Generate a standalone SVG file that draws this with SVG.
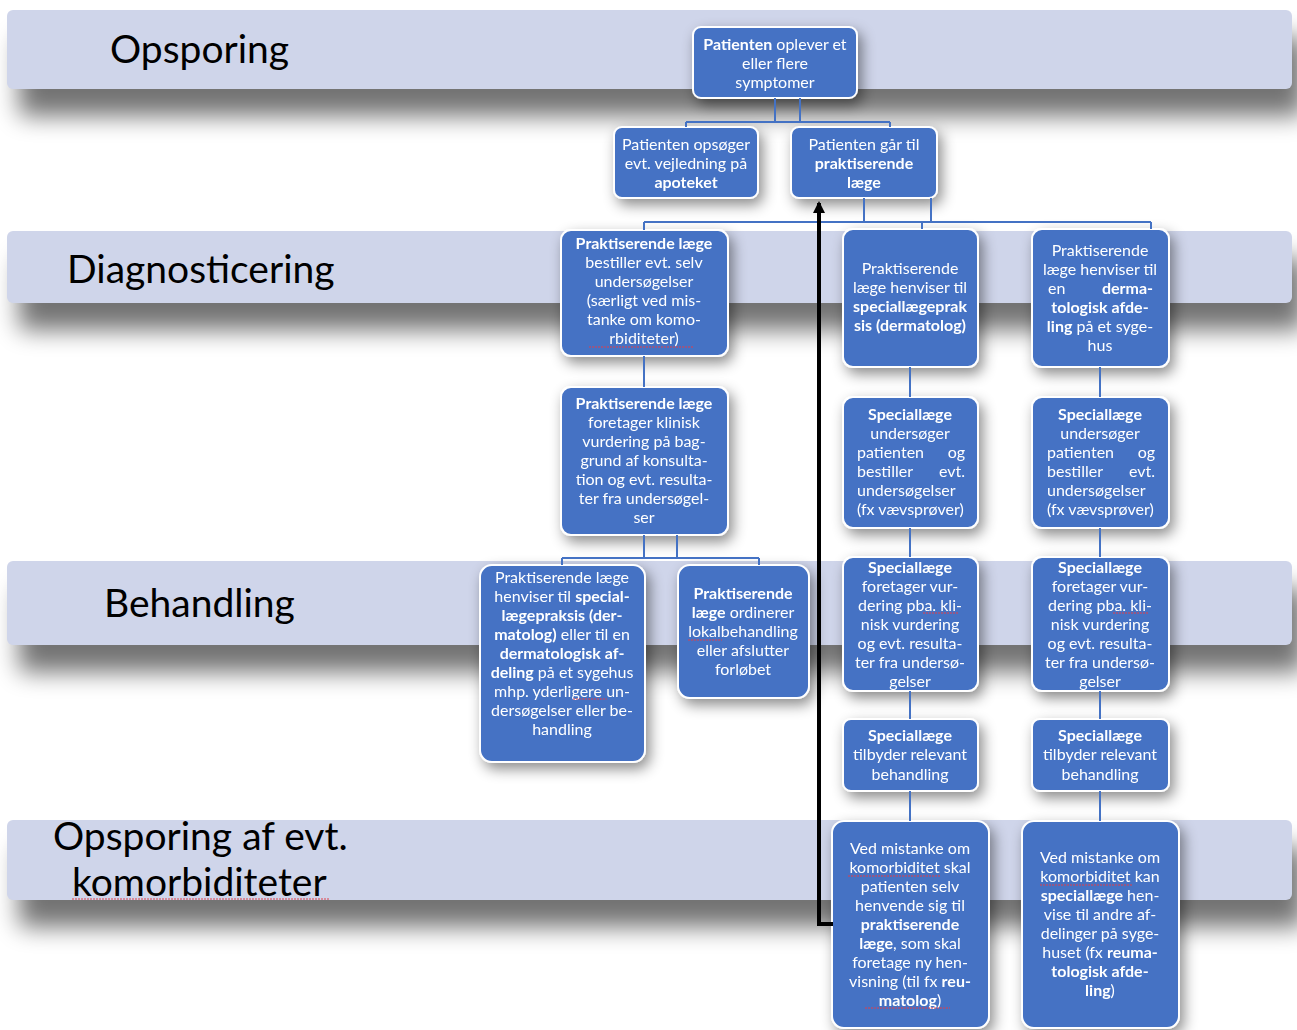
<svg xmlns="http://www.w3.org/2000/svg" width="1297" height="1030" viewBox="0 0 1297 1030">
<style>
.band{fill:#CFD5EA}
.bsh{fill:#000;opacity:0.55}
.lane{font-family:Lato,"Liberation Sans",sans-serif;font-size:39px;fill:#000}
.node rect{fill:#4472C4;stroke:#fff;stroke-width:2}
.t{font-family:Lato,"Liberation Sans",sans-serif;font-size:16px;fill:#fff;text-anchor:middle}
.l{text-anchor:start}
.r{text-anchor:end}
.b{font-weight:bold}
.conn{stroke:#4472C4;stroke-width:2;fill:none}
.arw{stroke:#000;stroke-width:4;fill:none}
.sq{stroke:#E0404A;stroke-width:1;fill:none;stroke-dasharray:2 1}
</style>
<defs>
<filter id="blurBand" x="-5%" y="-60%" width="110%" height="220%"><feGaussianBlur stdDeviation="12"/></filter>
<filter id="nsh" x="-30%" y="-30%" width="170%" height="170%"><feDropShadow dx="4" dy="6" stdDeviation="7" flood-color="#000" flood-opacity="0.45"/></filter>
<marker id="ah" markerUnits="userSpaceOnUse" markerWidth="12" markerHeight="12" viewBox="0 0 12 12" refX="10" refY="6" orient="auto"><path d="M0,0 L12,6 L0,12 z" fill="#000"/></marker>
</defs>
<rect width="1297" height="1030" fill="#fff"/>
<g id="lanes">
<g id="lane-opsporing">
<rect class="bsh" x="19" y="37" width="1285" height="79" rx="5" filter="url(#blurBand)"/>
<rect class="band" x="7" y="10" width="1285" height="79" rx="6"/>
<text class="lane" x="110" y="63">Opsporing</text>
</g>
<g id="lane-diagnosticering">
<rect class="bsh" x="19" y="258" width="1285" height="72" rx="5" filter="url(#blurBand)"/>
<rect class="band" x="7" y="231" width="1285" height="72" rx="6"/>
<text class="lane" x="67" y="283">Diagnosticering</text>
</g>
<g id="lane-behandling">
<rect class="bsh" x="19" y="588" width="1285" height="84" rx="5" filter="url(#blurBand)"/>
<rect class="band" x="7" y="561" width="1285" height="84" rx="6"/>
<text class="lane" x="104" y="617">Behandling</text>
</g>
<g id="lane-komorbiditeter">
<rect class="bsh" x="19" y="847" width="1285" height="80" rx="5" filter="url(#blurBand)"/>
<rect class="band" x="7" y="820" width="1285" height="80" rx="6"/>
<text class="lane" x="53" y="850">Opsporing af evt.</text>
<text class="lane" x="72" y="896">komorbiditeter</text>
<path class="sq" d="M72,899 H330"/>
</g>
</g>
<g id="nodes">
<g id="n1" class="node" filter="url(#nsh)">
<rect x="693" y="27" width="164" height="71" rx="8"/>
<text class="t" x="775" y="49.5"><tspan class="b">Patienten</tspan> oplever et</text>
<text class="t" x="775" y="68.5">eller flere</text>
<text class="t" x="775" y="87.5">symptomer</text>
</g>
<g id="n2" class="node" filter="url(#nsh)">
<rect x="614" y="127" width="144" height="71" rx="8"/>
<text class="t" x="686" y="150">Patienten opsøger</text>
<text class="t" x="686" y="169">evt. vejledning på</text>
<text class="t b" x="686" y="188">apoteket</text>
</g>
<g id="n3" class="node" filter="url(#nsh)">
<rect x="791" y="127" width="146" height="71" rx="8"/>
<text class="t" x="864" y="150">Patienten går til</text>
<text class="t b" x="864" y="169">praktiserende</text>
<text class="t b" x="864" y="188">læge</text>
</g>
<g id="n4" class="node" filter="url(#nsh)">
<rect x="561" y="230" width="167" height="126" rx="10"/>
<text class="t b" x="644" y="249">Praktiserende læge</text>
<text class="t" x="644" y="268">bestiller evt. selv</text>
<text class="t" x="644" y="287">undersøgelser</text>
<text class="t" x="644" y="306">(særligt ved mis-</text>
<text class="t" x="644" y="325">tanke om komo-</text>
<text class="t" x="644" y="344">rbiditeter)</text>
<path class="sq" d="M589,347 H693"/>
</g>
<g id="n5" class="node" filter="url(#nsh)">
<rect x="561" y="387" width="167" height="148" rx="10"/>
<text class="t b" x="644" y="409">Praktiserende læge</text>
<text class="t" x="644" y="428">foretager klinisk</text>
<text class="t" x="644" y="447">vurdering på bag-</text>
<text class="t" x="644" y="466">grund af konsulta-</text>
<text class="t" x="644" y="485">tion og evt. resulta-</text>
<text class="t" x="644" y="504">ter fra undersøgel-</text>
<text class="t" x="644" y="523">ser</text>
</g>
<g id="n6" class="node" filter="url(#nsh)">
<rect x="843" y="229" width="135" height="138" rx="10"/>
<text class="t" x="910" y="274">Praktiserende</text>
<text class="t" x="910" y="293">læge henviser til</text>
<text class="t b" x="910" y="312">speciallægeprak</text>
<text class="t b" x="910" y="331">sis (dermatolog)</text>
</g>
<g id="n7" class="node" filter="url(#nsh)">
<rect x="1032" y="229" width="137" height="138" rx="10"/>
<text class="t" x="1100" y="256">Praktiserende</text>
<text class="t" x="1100" y="275">læge henviser til</text>
<text class="t l" x="1048" y="294">en</text>
<text class="t r b" x="1153" y="294">derma-</text>
<text class="t b" x="1100" y="313">tologisk afde-</text>
<text class="t" x="1100" y="332"><tspan class="b">ling</tspan> på et syge-</text>
<text class="t" x="1100" y="351">hus</text>
</g>
<g id="n8" class="node" filter="url(#nsh)">
<rect x="843" y="397" width="135" height="131" rx="10"/>
<text class="t b" x="910" y="420">Speciallæge</text>
<text class="t" x="910" y="439">undersøger</text>
<text class="t l" x="857" y="458">patienten</text>
<text class="t r" x="965" y="458">og</text>
<text class="t l" x="857" y="477">bestiller</text>
<text class="t r" x="965" y="477">evt.</text>
<text class="t l" x="857" y="496">undersøgelser</text>
<text class="t l" x="857" y="515">(fx vævsprøver)</text>
</g>
<g id="n9" class="node" filter="url(#nsh)">
<rect x="1032" y="397" width="137" height="131" rx="10"/>
<text class="t b" x="1100" y="420">Speciallæge</text>
<text class="t" x="1100" y="439">undersøger</text>
<text class="t l" x="1047" y="458">patienten</text>
<text class="t r" x="1155" y="458">og</text>
<text class="t l" x="1047" y="477">bestiller</text>
<text class="t r" x="1155" y="477">evt.</text>
<text class="t l" x="1047" y="496">undersøgelser</text>
<text class="t l" x="1047" y="515">(fx vævsprøver)</text>
</g>
<g id="n10" class="node" filter="url(#nsh)">
<rect x="843" y="557" width="135" height="134" rx="10"/>
<text class="t b" x="910" y="573">Speciallæge</text>
<text class="t" x="910" y="592">foretager vur-</text>
<text class="t" x="910" y="611">dering pba. kli-</text>
<text class="t" x="910" y="630">nisk vurdering</text>
<text class="t" x="910" y="649">og evt. resulta-</text>
<text class="t" x="910" y="668">ter fra undersø-</text>
<text class="t" x="910" y="687">gelser</text>
<path class="sq" d="M923,613 H958"/>
</g>
<g id="n11" class="node" filter="url(#nsh)">
<rect x="1032" y="557" width="137" height="134" rx="10"/>
<text class="t b" x="1100" y="573">Speciallæge</text>
<text class="t" x="1100" y="592">foretager vur-</text>
<text class="t" x="1100" y="611">dering pba. kli-</text>
<text class="t" x="1100" y="630">nisk vurdering</text>
<text class="t" x="1100" y="649">og evt. resulta-</text>
<text class="t" x="1100" y="668">ter fra undersø-</text>
<text class="t" x="1100" y="687">gelser</text>
<path class="sq" d="M1113,613 H1148"/>
</g>
<g id="n12" class="node" filter="url(#nsh)">
<rect x="843" y="719" width="135" height="72" rx="8"/>
<text class="t b" x="910" y="741">Speciallæge</text>
<text class="t" x="910" y="760">tilbyder relevant</text>
<text class="t" x="910" y="780">behandling</text>
</g>
<g id="n13" class="node" filter="url(#nsh)">
<rect x="1032" y="719" width="137" height="72" rx="8"/>
<text class="t b" x="1100" y="741">Speciallæge</text>
<text class="t" x="1100" y="760">tilbyder relevant</text>
<text class="t" x="1100" y="780">behandling</text>
</g>
<g id="n14" class="node" filter="url(#nsh)">
<rect x="832" y="821" width="157" height="207" rx="12"/>
<text class="t" x="910" y="854">Ved mistanke om</text>
<text class="t" x="910" y="873">komorbiditet skal</text>
<text class="t" x="910" y="892">patienten selv</text>
<text class="t" x="910" y="911">henvende sig til</text>
<text class="t b" x="910" y="930">praktiserende</text>
<text class="t" x="910" y="949"><tspan class="b">læge</tspan>, som skal</text>
<text class="t" x="910" y="968">foretage ny hen-</text>
<text class="t" x="910" y="987">visning (til fx <tspan class="b">reu-</tspan></text>
<text class="t" x="910" y="1006"><tspan class="b">matolog</tspan>)</text>
<path class="sq" d="M848,876 H940 M865,1008 H950"/>
</g>
<g id="n15" class="node" filter="url(#nsh)">
<rect x="1022" y="821" width="157" height="207" rx="12"/>
<text class="t" x="1100" y="863">Ved mistanke om</text>
<text class="t" x="1100" y="882">komorbiditet kan</text>
<text class="t" x="1100" y="901"><tspan class="b">speciallæge</tspan> hen-</text>
<text class="t" x="1100" y="920">vise til andre af-</text>
<text class="t" x="1100" y="939">delinger på syge-</text>
<text class="t" x="1100" y="958">huset (fx <tspan class="b">reuma-</tspan></text>
<text class="t b" x="1100" y="977">tologisk afde-</text>
<text class="t" x="1100" y="996"><tspan class="b">ling</tspan>)</text>
<path class="sq" d="M1040,885 H1132"/>
</g>
<g id="n16" class="node" filter="url(#nsh)">
<rect x="480" y="565" width="165" height="197" rx="12"/>
<text class="t" x="562" y="583">Praktiserende læge</text>
<text class="t" x="562" y="602">henviser til <tspan class="b">special-</tspan></text>
<text class="t b" x="562" y="621">lægepraksis (der-</text>
<text class="t" x="562" y="640"><tspan class="b">matolog)</tspan> eller til en</text>
<text class="t b" x="562" y="659">dermatologisk af-</text>
<text class="t" x="562" y="678"><tspan class="b">deling</tspan> på et sygehus</text>
<text class="t" x="562" y="697">mhp. yderligere un-</text>
<text class="t" x="562" y="716">dersøgelser eller be-</text>
<text class="t" x="562" y="735">handling</text>
<path class="sq" d="M573,699 H607"/>
</g>
<g id="n17" class="node" filter="url(#nsh)">
<rect x="678" y="565" width="131" height="133" rx="12"/>
<text class="t b" x="743" y="599">Praktiserende</text>
<text class="t" x="743" y="618"><tspan class="b">læge</tspan> ordinerer</text>
<text class="t" x="743" y="637">lokalbehandling</text>
<text class="t" x="743" y="656">eller afslutter</text>
<text class="t" x="743" y="675">forløbet</text>
<path class="sq" d="M688,640 H722"/>
</g>
</g>
<g id="connectors">
<path class="conn" d="M775,98 V122 M800,98 V122 M686,122 H890 M686,122 V127 M890,122 V127"/>
<path class="conn" d="M864,198 V222 M931,198 V222 M644,222 H1151 M644,222 V230 M922,222 V229 M1151,222 V229"/>
<path class="conn" d="M644,356 V387"/>
<path class="conn" d="M644,535 V558 M677,535 V558 M562,558 H759 M562,558 V565 M759,558 V565"/>
<path class="conn" d="M910,367 V397 M1100,367 V397 M910,528 V557 M1100,528 V557 M910,691 V719 M1100,691 V719 M910,791 V821 M1100,791 V821"/>
<path class="arw" d="M833,924 H819 V203" marker-end="url(#ah)"/>
</g>
</svg>
